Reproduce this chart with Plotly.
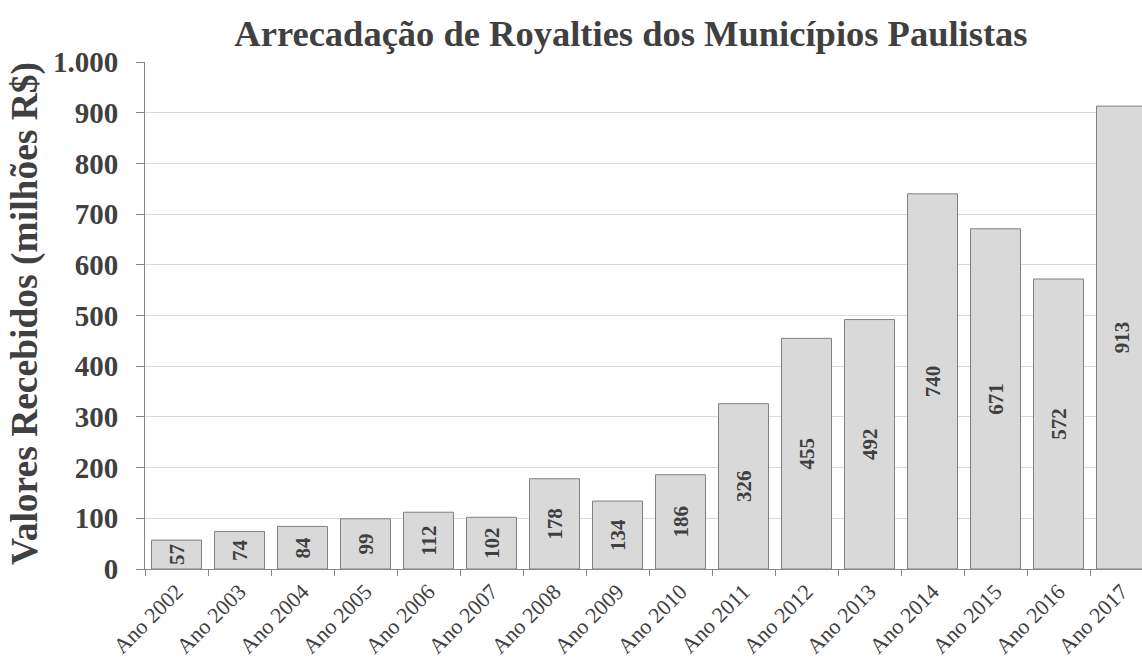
import plotly.graph_objects as go

categories = ["Ano 2002", "Ano 2003", "Ano 2004", "Ano 2005", "Ano 2006", "Ano 2007",
              "Ano 2008", "Ano 2009", "Ano 2010", "Ano 2011", "Ano 2012", "Ano 2013",
              "Ano 2014", "Ano 2015", "Ano 2016", "Ano 2017"]
values = [57, 74, 84, 99, 112, 102, 178, 134, 186, 326, 455, 492, 740, 671, 572, 913]
y_ticks = [0, 100, 200, 300, 400, 500, 600, 700, 800, 900, 1000]

FONT = "Liberation Serif"
TXT = "#404040"
AX = "#868686"

fig = go.Figure(go.Bar(
    x=categories, y=values,
    marker=dict(color="#d9d9d9", line=dict(color="#808080", width=1)),
    text=[str(v) for v in values],
    textposition="inside", insidetextanchor="middle", textangle=-90,
    textfont=dict(family=FONT, size=21, color=TXT, weight="bold"),
    constraintext="none",
    cliponaxis=True,
    hoverinfo="skip",
))

fig.update_layout(
    width=1142, height=665,
    margin=dict(l=145, r=0, t=62, b=96, autoexpand=False),
    paper_bgcolor="white", plot_bgcolor="white",
    bargap=0.206,
    separators=",.",
    showlegend=False,
    title=dict(text="<b>Arrecadação de Royalties dos Municípios Paulistas</b>",
               x=0.5525, xanchor="center", y=0.95, yanchor="middle",
               font=dict(family=FONT, size=36.5, color=TXT)),
    xaxis=dict(
        range=[-0.5, 15.325], tickson="boundaries", automargin=False,
        ticks="outside", ticklen=6, tickcolor=AX,
        showline=True, linecolor=AX, linewidth=1,
        tickangle=-45, tickfont=dict(family=FONT, size=22, color=TXT),
        showgrid=False,
    ),
    yaxis=dict(
        range=[0, 1000], tickvals=y_ticks, tickformat=",d", automargin=False,
        ticks="outside", ticklen=8, tickcolor=AX, ticklabelstandoff=12,
        showline=True, linecolor=AX, linewidth=1,
        showgrid=True, gridcolor="#d9d9d9", gridwidth=1,
        tickfont=dict(family=FONT, size=29, color=TXT, weight="bold"),
        zeroline=False,
    ),
    annotations=[dict(
        text="<b>Valores Recebidos (milhões R$)</b>",
        xref="paper", yref="paper", x=(25 - 145) / 997, y=(569 - 314) / 507,
        xanchor="center", yanchor="middle", textangle=-90, showarrow=False,
        font=dict(family=FONT, size=37.5, color=TXT),
    )],
)

fig.write_html("out.html", config={"displayModeBar": False},
               post_script="document.body.style.margin='0';")
